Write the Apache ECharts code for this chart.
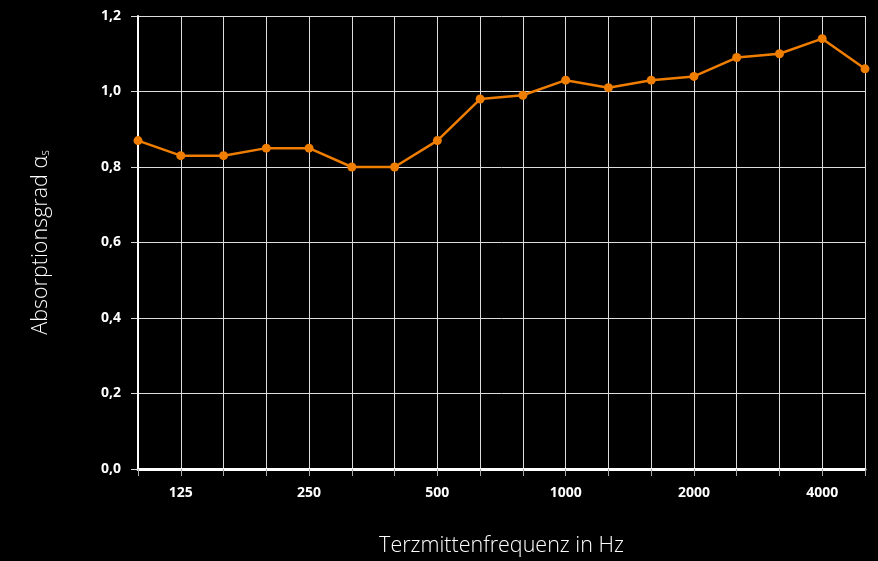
<!DOCTYPE html>
<html>
<head>
<meta charset="utf-8">
<script src="https://cdn.jsdelivr.net/npm/echarts@6/dist/echarts.min.js"></script>
<style>
  html, body { margin: 0; padding: 0; background: #000; }
  #chart { width: 878px; height: 561px; }
</style>
</head>
<body>
<div id="chart"></div>
<script>
// Third-octave centre frequencies (Hz)
const frequencies = ['100', '125', '160', '200', '250', '315', '400', '500', '630',
  '800', '1000', '1250', '1600', '2000', '2500', '3150', '4000', '5000'];
// Sound absorption coefficient per band
const absorption = [0.87, 0.83, 0.83, 0.85, 0.85, 0.80, 0.80, 0.87, 0.98,
  0.99, 1.03, 1.01, 1.03, 1.04, 1.09, 1.10, 1.14, 1.06];
// Labelled frequencies on the x axis
const labelledFrequencies = ['125', '250', '500', '1000', '2000', '4000'];

const fontFamily = '"Open Sans", "Noto Sans", sans-serif';
const orange = '#ee7d00';

const chart = echarts.init(document.getElementById('chart'));
chart.setOption({
  backgroundColor: '#000',
  animation: false,
  grid: { left: 138, right: 13, top: 16, bottom: 92, containLabel: false, outerBoundsMode: 'none' },
  xAxis: {
    type: 'category',
    data: frequencies,
    boundaryGap: false,
    name: 'Terzmittenfrequenz in Hz',
    nameLocation: 'middle',
    nameGap: 66,
    nameTextStyle: { color: '#fff', fontSize: 21.5, fontFamily: fontFamily, fontWeight: 300 },
    axisLine: { show: true, lineStyle: { color: '#fff', width: 3 } },
    axisTick: { show: true, interval: 0, length: 7, lineStyle: { color: '#aaa', width: 1 } },
    axisLabel: {
      interval: 0,
      formatter: v => labelledFrequencies.includes(v) ? v : '',
      color: '#fff', fontSize: 14, fontWeight: 'bold', fontFamily: fontFamily, margin: 17
    },
    splitLine: { show: true, interval: 0, lineStyle: { color: '#ddd', width: 1 } }
  },
  yAxis: {
    type: 'value',
    min: 0, max: 1.2, interval: 0.2,
    name: '{a|Absorptionsgrad α}{s|s}',
    nameLocation: 'middle',
    nameGap: 86,
    nameRotate: 90,
    nameTextStyle: {
      rich: {
        a: { color: '#fff', fontSize: 21.5, fontFamily: fontFamily, fontWeight: 300 },
        s: { color: '#fff', fontSize: 12, fontFamily: fontFamily, fontWeight: 300, verticalAlign: 'bottom', padding: [10, 0, 0, 0] }
      }
    },
    axisLine: { show: true, lineStyle: { color: '#fff', width: 2 } },
    axisTick: { show: true, length: 7, lineStyle: { color: '#ddd', width: 1 } },
    axisLabel: {
      formatter: v => v.toFixed(1).replace('.', ','),
      color: '#fff', fontSize: 14, fontWeight: 'bold', fontFamily: fontFamily, margin: 17
    },
    splitLine: { show: true, lineStyle: { color: '#ddd', width: 1 } }
  },
  series: [{
    type: 'line',
    data: absorption,
    symbol: 'circle',
    symbolSize: 9,
    lineStyle: { color: orange, width: 2.5 },
    itemStyle: { color: orange },
    z: 5
  }]
});
</script>
</body>
</html>
